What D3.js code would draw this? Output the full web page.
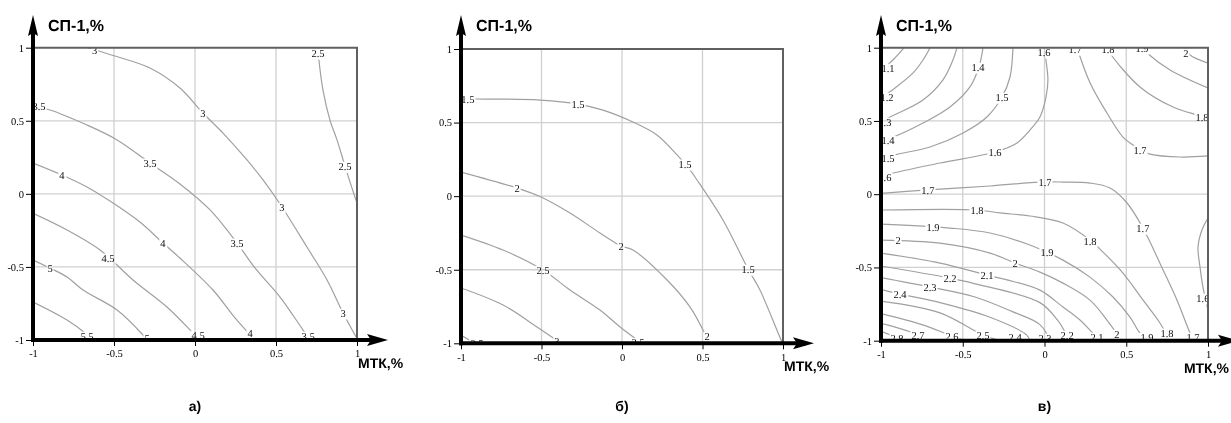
<!DOCTYPE html>
<html>
<head>
<meta charset="utf-8">
<script src="https://cdn.jsdelivr.net/npm/d3@7"></script>
<style>
  body { margin: 0; background: #fff; }
  svg { display: block; will-change: transform; }
  text { text-rendering: geometricPrecision; }
</style>
</head>
<body>
<svg id="chart" width="1231" height="423"></svg>
<script>
// Axis ticks shared by all three panels
const ticks = [-1, -0.5, 0, 0.5, 1];
const tickText = ["-1", "-0.5", "0", "0.5", "1"];
const yTitle = "СП-1,%";
const xTitle = "МТК,%";
const captions = ["а)", "б)", "в)"];

// Panel а: isolines (level, points [МТК, СП-1], label anchors)
const levelsA = ["3", "2.5", "3.5", "4", "4.5", "5", "5.5"];
const linesA = [
  [[-0.66,1.0],[-0.494,0.943],[-0.278,0.861],[-0.093,0.724],[0.049,0.553],[0.173,0.416],[0.321,0.232],[0.42,0.095],[0.537,-0.09],[0.691,-0.364],[0.815,-0.589],[0.914,-0.815],[1.0,-0.99]],
  [[0.759,1.0],[0.765,0.916],[0.79,0.71],[0.833,0.505],[0.877,0.368],[0.926,0.19],[0.963,0.06],[1.0,-0.063]],
  [[-1,0.601],[-0.895,0.574],[-0.667,0.471],[-0.481,0.369],[-0.278,0.211],[-0.093,0.068],[0.093,-0.11],[0.259,-0.336],[0.37,-0.507],[0.525,-0.706],[0.667,-0.932],[0.71,-1.0]],
  [[-1,0.211],[-0.821,0.129],[-0.667,0.047],[-0.506,-0.063],[-0.34,-0.193],[-0.198,-0.336],[-0.093,-0.439],[0.111,-0.658],[0.247,-0.849],[0.37,-1.0]],
  [[-1,-0.133],[-0.79,-0.247],[-0.586,-0.384],[-0.383,-0.589],[-0.173,-0.774],[0.0,-0.966],[0.031,-1.0]],
  [[-1,-0.453],[-0.895,-0.508],[-0.79,-0.569],[-0.691,-0.658],[-0.481,-0.795],[-0.321,-0.966],[-0.296,-1.0]],
  [[-1,-0.74],[-0.79,-0.863],[-0.679,-0.952],[-0.636,-1.0]]
];
const labelsA = [
  [[-0.62,0.985],[0.049,0.553],[0.537,-0.091],[0.914,-0.816]],
  [[0.759,0.964],[0.926,0.19]],
  [[-0.963,0.601],[-0.278,0.211],[0.259,-0.336],[0.698,-0.972]],
  [[-0.821,0.129],[-0.198,-0.336],[0.34,-0.952]],
  [[-0.537,-0.439],[0.019,-0.966]],
  [[-0.895,-0.508],[-0.296,-0.986]],
  [[-0.667,-0.973]]
];

// Panel б
const levelsB = ["1.5", "2", "2.5", "3", "3.5"];
const linesB = [
  [[-1,0.66],[-0.839,0.66],[-0.509,0.653],[-0.273,0.626],[-0.118,0.585],[0.068,0.504],[0.217,0.416],[0.342,0.28],[0.422,0.178],[0.466,0.11],[0.627,-0.162],[0.783,-0.495],[0.857,-0.638],[0.994,-0.991],[1,-1]],
  [[-1,0.164],[-0.652,0.055],[-0.503,-0.006],[-0.323,-0.115],[-0.137,-0.25],[-0.006,-0.339],[0.068,-0.366],[0.28,-0.57],[0.422,-0.753],[0.503,-0.91],[0.54,-1]],
  [[-1,-0.264],[-0.739,-0.366],[-0.491,-0.502],[-0.323,-0.638],[-0.137,-0.774],[-0.012,-0.889],[0.124,-1]],
  [[-1,-0.624],[-0.739,-0.74],[-0.528,-0.889],[-0.379,-1]],
  [[-1,-0.946],[-0.913,-1]]
];
const labelsB = [
  [[-0.957,0.66],[-0.273,0.626],[0.391,0.219],[0.783,-0.495]],
  [[-0.652,0.055],[-0.006,-0.339],[0.528,-0.951]],
  [[-0.491,-0.502],[0.099,-0.993]],
  [[-0.404,-0.986]],
  [[-0.901,-1.0]]
];

// Panel в
const levelsC = ["1.1","1.2","1.3","1.4","1.5","1.6","1.6","1.7","1.8","1.9","2","1.7","1.8","1.9","2","2.1","2.2","2.3","2.4","2.5","2.6","2.7","2.8"];
const linesC = [
  [[-1,0.848],[-0.927,0.916],[-0.859,1.0]],
  [[-1,0.657],[-0.914,0.725],[-0.804,0.828],[-0.743,0.916],[-0.7,1.0]],
  [[-1,0.493],[-0.945,0.527],[-0.743,0.643],[-0.621,0.78],[-0.56,0.916],[-0.535,1.0]],
  [[-1,0.37],[-0.927,0.39],[-0.743,0.486],[-0.578,0.595],[-0.456,0.732],[-0.401,0.868],[-0.376,1.0]],
  [[-1,0.233],[-0.914,0.268],[-0.7,0.322],[-0.498,0.418],[-0.352,0.527],[-0.26,0.663],[-0.211,0.8],[-0.193,1.0]],
  [[-1,0.117],[-0.945,0.138],[-0.639,0.213],[-0.303,0.288],[-0.168,0.35],[-0.089,0.438],[-0.028,0.527],[0.009,0.663],[0.021,0.78],[0.009,0.916],[0.0,1.0]],
  [[1,-0.163],[0.963,-0.244],[0.939,-0.36],[0.951,-0.496],[0.969,-0.633],[1.0,-0.79]],
  [[0.199,1.0],[0.279,0.759],[0.382,0.554],[0.48,0.39],[0.541,0.336],[0.584,0.302],[0.645,0.274],[0.829,0.254],[1.0,0.261]],
  [[0.388,1.0],[0.401,0.964],[0.584,0.732],[0.786,0.595],[0.933,0.541],[1.0,0.52]],
  [[0.596,1.0],[0.627,0.964],[0.768,0.848],[1.0,0.725]],
  [[0.859,1.0],[0.89,0.95],[1.0,0.895]],
  [[-1,0.006],[-0.713,0.029],[-0.333,0.056],[-0.028,0.083],[0.113,0.083],[0.278,0.076],[0.401,0.042],[0.505,-0.06],[0.602,-0.231],[0.725,-0.517],[0.81,-0.722],[0.89,-0.947],[0.914,-1]],
  [[-1,-0.108],[-0.413,-0.108],[-0.272,-0.128],[-0.089,-0.149],[0.113,-0.197],[0.278,-0.313],[0.358,-0.395],[0.48,-0.538],[0.602,-0.722],[0.706,-0.879],[0.768,-1]],
  [[-1,-0.204],[-0.578,-0.231],[-0.333,-0.265],[-0.089,-0.347],[0.113,-0.45],[0.278,-0.566],[0.419,-0.702],[0.523,-0.839],[0.584,-0.947],[0.645,-1]],
  [[-1,-0.313],[-0.639,-0.334],[-0.333,-0.402],[-0.18,-0.47],[-0.028,-0.532],[0.113,-0.607],[0.278,-0.723],[0.382,-0.859],[0.443,-0.954],[0.468,-1]],
  [[-1,-0.402],[-0.639,-0.47],[-0.352,-0.552],[-0.229,-0.585],[-0.028,-0.655],[0.113,-0.77],[0.217,-0.859],[0.321,-0.975],[0.358,-1]],
  [[-1,-0.49],[-0.578,-0.573],[-0.43,-0.61],[-0.028,-0.74],[0.08,-0.86],[0.138,-0.961],[0.168,-1]],
  [[-1,-0.57],[-0.7,-0.634],[-0.43,-0.70],[-0.2,-0.80],[-0.028,-0.89],[0.034,-1]],
  [[-1,-0.65],[-0.884,-0.682],[-0.639,-0.74],[-0.333,-0.84],[-0.11,-0.96],[-0.089,-1]],
  [[-1,-0.73],[-0.639,-0.81],[-0.376,-0.961],[-0.272,-1]],
  [[-1,-0.815],[-0.75,-0.89],[-0.566,-0.968],[-0.486,-1]],
  [[-1,-0.882],[-0.774,-0.961],[-0.731,-1]],
  [[-1,-0.936],[-0.902,-0.982],[-0.884,-1]]
];
const labelsC = [
  [[-0.957,0.861]],
  [[-0.963,0.663]],
  [[-0.976,0.493]],
  [[-0.957,0.37],[-0.407,0.868]],
  [[-0.957,0.247],[-0.26,0.663]],
  [[-0.976,0.117],[-0.303,0.288],[-0.003,0.971]],
  [[0.969,-0.708]],
  [[0.187,0.991],[0.584,0.302]],
  [[0.388,0.991],[0.963,0.527]],
  [[0.596,0.998]],
  [[0.865,0.964]],
  [[-0.713,0.029],[0.003,0.083],[0.602,-0.231],[0.908,-0.975]],
  [[-0.413,-0.108],[0.278,-0.32],[0.749,-0.947]],
  [[-0.682,-0.224],[0.015,-0.395],[0.627,-0.975]],
  [[-0.896,-0.313],[-0.18,-0.47],[0.443,-0.954]],
  [[-0.352,-0.552],[0.321,-0.975]],
  [[-0.578,-0.573],[0.138,-0.961]],
  [[-0.7,-0.634],[0.003,-0.982]],
  [[-0.884,-0.682],[-0.18,-0.975]],
  [[-0.376,-0.961]],
  [[-0.566,-0.968]],
  [[-0.774,-0.961]],
  [[-0.902,-0.982]]
];

const svg = d3.select("#chart");
const W = 1231, H = 423;

const panels = [
  { key: "a", x0: 33,  x1: 357,  y0: 47.7, y1: 340,   levels: levelsA, lines: linesA, labels: labelsA },
  { key: "b", x0: 461, x1: 783,  y0: 49,   y1: 343.3, levels: levelsB, lines: linesB, labels: labelsB },
  { key: "c", x0: 881, x1: 1208, y0: 47.7, y1: 340.7, levels: levelsC, lines: linesC, labels: labelsC }
];

const serif = "'Liberation Serif', 'Times New Roman', serif";
const sans = "'Liberation Sans', Arial, sans-serif";

panels.forEach((p, pi) => {
  const x = d3.scaleLinear().domain([-1, 1]).range([p.x0, p.x1]);
  const y = d3.scaleLinear().domain([-1, 1]).range([p.y1, p.y0]);
  const g = svg.append("g").attr("class", "panel-" + p.key);

  // plot-area clip
  const defs = g.append("defs");
  defs.append("clipPath").attr("id", "clip-" + p.key)
    .append("rect")
    .attr("x", x(-1)).attr("y", y(1))
    .attr("width", x(1) - x(-1)).attr("height", y(-1) - y(1));

  // grid
  const grid = g.append("g").attr("stroke", "#d0d0d0").attr("stroke-width", 1.3);
  ticks.filter(t => t > -1 && t < 1).forEach(t => {
    grid.append("line").attr("x1", x(t)).attr("x2", x(t)).attr("y1", y(1)).attr("y2", y(-1));
    grid.append("line").attr("y1", y(t)).attr("y2", y(t)).attr("x1", x(-1)).attr("x2", x(1));
  });

  const plot = g.append("g").attr("clip-path", `url(#clip-${p.key})`);

  // gaps in the isolines under their value labels
  const mask = defs.append("mask").attr("id", "gap-" + p.key)
    .attr("maskUnits", "userSpaceOnUse")
    .attr("x", 0).attr("y", 0).attr("width", W).attr("height", H);
  mask.append("rect").attr("x", 0).attr("y", 0).attr("width", W).attr("height", H).attr("fill", "#fff");

  const lineGen = d3.line()
    .x(d => x(d[0])).y(d => y(d[1]))
    .curve(d3.curveCatmullRom.alpha(0.5));

  const lineLayer = plot.append("g").attr("mask", `url(#gap-${p.key})`);
  const labelLayer = plot.append("g")
    .attr("font-family", serif).attr("font-size", 10.5).attr("fill", "#111");

  p.lines.forEach((pts, i) => {
    lineLayer.append("path")
      .attr("d", lineGen(pts))
      .attr("fill", "none")
      .attr("stroke", "#a0a0a0")
      .attr("stroke-width", 1.2);
    p.labels[i].forEach(lp => {
      const t = labelLayer.append("text")
        .attr("x", x(lp[0])).attr("y", y(lp[1]))
        .attr("text-anchor", "middle")
        .attr("dy", "0.35em")
        .text(p.levels[i]);
      const bb = t.node().getBBox();
      mask.append("rect")
        .attr("x", bb.x - 1).attr("y", bb.y)
        .attr("width", bb.width + 2).attr("height", bb.height)
        .attr("fill", "#000");
    });
  });

  // frame (top and right)
  g.append("path")
    .attr("d", `M${x(-1)},${y(1)}H${x(1)}V${y(-1)}`)
    .attr("fill", "none").attr("stroke", "#606060").attr("stroke-width", 2);

  // axes with ticks
  const yAxis = d3.axisLeft(y).tickValues(ticks)
    .tickFormat((d, i) => tickText[i]).tickSize(7).tickPadding(2);
  const xAxis = d3.axisBottom(x).tickValues(ticks)
    .tickFormat((d, i) => tickText[i]).tickSize(6).tickPadding(4);

  const ya = g.append("g").attr("transform", `translate(${x(-1)},0)`).call(yAxis);
  const xa = g.append("g").attr("transform", `translate(0,${y(-1)})`).call(xAxis);
  [ya, xa].forEach(a => {
    a.select(".domain").remove();
    a.selectAll(".tick line").attr("stroke", "#000").attr("stroke-width", 1);
    a.selectAll(".tick text").attr("font-family", serif).attr("font-size", 10.5).attr("fill", "#000");
  });

  // thick axis lines with arrowheads
  const ax = x(-1), ay = y(-1);
  g.append("line").attr("x1", ax).attr("x2", ax).attr("y1", ay + 2).attr("y2", 30)
    .attr("stroke", "#000").attr("stroke-width", 4);
  g.append("path")
    .attr("d", `M${ax},15 L${ax + 5},36 L${ax},33 L${ax - 5},36 Z`)
    .attr("fill", "#000");
  const tipX = x(1) + 31;
  g.append("line").attr("x1", ax - 2).attr("x2", tipX - 8).attr("y1", ay).attr("y2", ay)
    .attr("stroke", "#000").attr("stroke-width", 4);
  g.append("path")
    .attr("d", `M${tipX},${ay} L${tipX - 21},${ay - 6} L${tipX - 17},${ay} L${tipX - 21},${ay + 6} Z`)
    .attr("fill", "#000");

  // axis titles
  g.append("text")
    .attr("x", ax + 15).attr("y", 31)
    .attr("font-family", sans).attr("font-size", 16).attr("font-weight", "bold")
    .attr("fill", "#000")
    .text(yTitle);
  const xt = g.append("text")
    .attr("x", x(1) + 1).attr("y", ay + 28)
    .attr("font-family", sans).attr("font-size", 14).attr("font-weight", "bold")
    .attr("fill", "#000")
    .text(xTitle);
  // keep the title inside the page and clear of the last tick label
  const xtw = xt.node().getComputedTextLength();
  if (x(1) + 1 + xtw > W - 2) xt.attr("x", W - 2 - xtw).attr("y", ay + 32);

  // caption
  g.append("text")
    .attr("x", x(0)).attr("y", 411)
    .attr("text-anchor", "middle")
    .attr("font-family", sans).attr("font-size", 14).attr("font-weight", "bold")
    .attr("fill", "#000")
    .text(captions[pi]);
});
</script>
</body>
</html>
